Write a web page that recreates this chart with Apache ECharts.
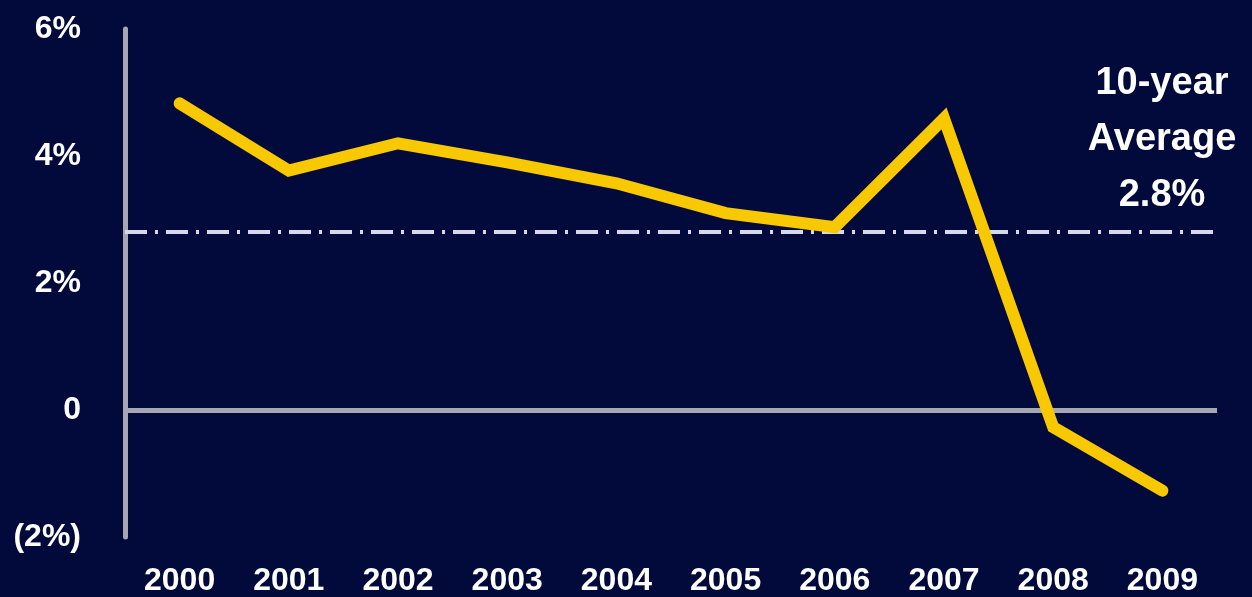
<!DOCTYPE html>
<html>
<head>
<meta charset="utf-8">
<script src="https://cdn.jsdelivr.net/npm/echarts@6/dist/echarts.min.js"></script>
<style>
  html, body { margin: 0; padding: 0; background: #020a3c; }
  #chart { width: 1252px; height: 597px; }
</style>
</head>
<body>
<div id="chart"></div>
<script>
const years = ['2000', '2001', '2002', '2003', '2004', '2005', '2006', '2007', '2008', '2009'];
const growth = [4.83, 3.77, 4.2, 3.9, 3.57, 3.1, 2.88, 4.59, -0.27, -1.27];
const average = 2.8;
const averageLabel = '10-year\nAverage\n2.8%';

const chart = echarts.init(document.getElementById('chart'));

const labelFont = {
  color: '#ffffff',
  fontFamily: 'Liberation Sans',
  fontWeight: 'bold',
  fontSize: 32,
};

const option = {
  backgroundColor: '#020a3c',
  animation: false,
  grid: { left: 125, right: 35, top: 29, bottom: 60 },
  xAxis: {
    type: 'category',
    data: years,
    boundaryGap: true,
    axisLine: { show: false },
    axisTick: { show: false },
    axisLabel: { ...labelFont, margin: 28 },
  },
  yAxis: {
    type: 'value',
    min: -2,
    max: 6,
    interval: 2,
    splitLine: { show: false },
    axisTick: { show: false },
    axisLine: { show: true, lineStyle: { color: '#a6a7b0', width: 5 } },
    axisLabel: {
      ...labelFont,
      margin: 44,
      formatter: (v) => (v === 0 ? '0' : v < 0 ? '(' + Math.abs(v) + '%)' : v + '%'),
    },
  },
  series: [
    {
      type: 'line',
      data: growth,
      symbol: 'none',
      lineStyle: { color: '#f8c900', width: 12, cap: 'round', join: 'miter' },
      z: 5,
      markLine: {
        silent: true,
        symbol: 'none',
        label: { show: false },
        data: [
          { yAxis: 0, lineStyle: { color: '#a6a7b0', width: 5, type: 'solid' } },
          {
            yAxis: average,
            lineStyle: { color: '#d6d9ec', width: 4, type: [22, 8, 3, 8] },
          },
        ],
      },
    },
  ],
  graphic: [
    {
      type: 'text',
      z: 10,
      style: {
        text: averageLabel,
        x: 1162,
        y: 56,
        fill: '#ffffff',
        font: 'bold 38px "Liberation Sans"',
        lineHeight: 56,
        align: 'center',
        verticalAlign: 'top',
      },
    },
  ],
};

chart.setOption(option);
</script>
</body>
</html>
